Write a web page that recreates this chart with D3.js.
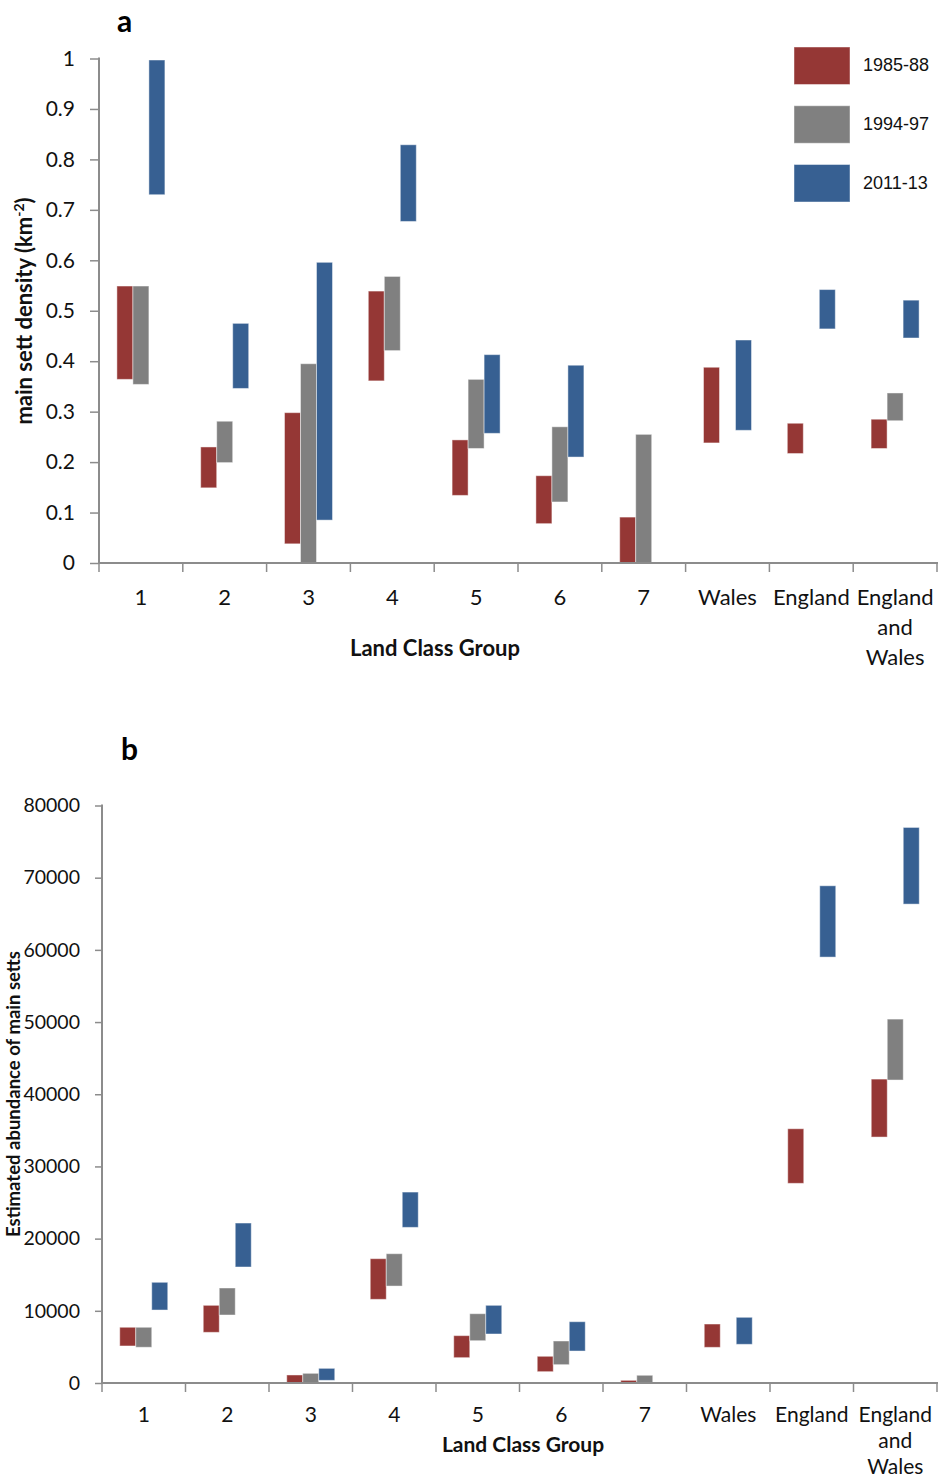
<!DOCTYPE html>
<html>
<head>
<meta charset="utf-8">
<script src="https://cdn.jsdelivr.net/npm/d3@7"></script>
<style>
  body { margin: 0; background: #fff; }
  svg { display: block; }
</style>
</head>
<body>
<div id="chart"></div>
<script>
// categories and tick labels
var categories = ["1", "2", "3", "4", "5", "6", "7", "Wales", "England", "England and Wales"];
var tickLines = [["1"], ["2"], ["3"], ["4"], ["5"], ["6"], ["7"], ["Wales"], ["England"], ["England", "and", "Wales"]];
var series = ["1985-88", "1994-97", "2011-13"];
var colors = ["#953735", "#808080", "#376092"];

// panel a: main sett density, low / high of each floating bar
var densLow88  = [0.364, 0.149, 0.038, 0.361, 0.134, 0.078, 0,     0.238, 0.217, 0.227];
var densHigh88 = [0.549, 0.230, 0.298, 0.539, 0.244, 0.173, 0.091, 0.388, 0.277, 0.285];
var densLow97  = [0.354, 0.199, 0,     0.421, 0.227, 0.121, 0,     null,  null,  0.282];
var densHigh97 = [0.549, 0.281, 0.395, 0.568, 0.364, 0.270, 0.255, null,  null,  0.337];
var densLow13  = [0.730, 0.346, 0.085, 0.677, 0.257, 0.210, null,  0.263, 0.464, 0.446];
var densHigh13 = [0.997, 0.475, 0.596, 0.829, 0.413, 0.392, null,  0.442, 0.542, 0.521];
var densTicks = [0, 0.1, 0.2, 0.3, 0.4, 0.5, 0.6, 0.7, 0.8, 0.9, 1];

// panel b: estimated abundance of main setts
var abLow88  = [5130, 7020, 0,    11590, 3510, 1570, 0,    4940, 27660, 34070];
var abHigh88 = [7720, 10760, 1110, 17220, 6560, 3700, 370,  8170, 35220, 42100];
var abLow97  = [4950, 9420, 0,    13430, 5860, 2540, 0,    null, null,  41970];
var abHigh97 = [7720, 13160, 1340, 17910, 9600, 5820, 1070, null, null,  50410];
var abLow13  = [10110, 16070, 370, 21560, 6790, 4430, null, 5360, 59000, 66340];
var abHigh13 = [13950, 22160, 2030, 26450, 10760, 8490, null, 9100, 68880, 76960];
var abTicks = [0, 10000, 20000, 30000, 40000, 50000, 60000, 70000, 80000];

var svg = d3.select("#chart").append("svg")
  .attr("width", 939).attr("height", 1480);

var numFont = "Lato, 'Open Sans', sans-serif";
var axisColor = "#8c8c8c";

function drawPanel(p) {
  var g = svg.append("g");
  var x = d3.scaleBand().domain(categories).range([p.left, p.right]).paddingInner(0).paddingOuter(0);
  var y = d3.scaleLinear().domain([0, p.max]).range([p.bottom, p.top]);
  var bw = x.bandwidth();
  var xs = d3.scaleBand().domain(series).range([bw / 2 - 24, bw / 2 + 24]);

  var rows = [];
  series.forEach(function (s, si) {
    categories.forEach(function (c, ci) {
      var lo = p.lows[si][ci], hi = p.highs[si][ci];
      if (lo == null || hi == null) return;
      rows.push({ s: s, si: si, c: c, lo: lo, hi: hi });
    });
  });

  g.selectAll("rect.bar").data(rows).enter().append("rect")
    .attr("class", "bar")
    .attr("x", function (d) { return x(d.c) + xs(d.s); })
    .attr("width", xs.bandwidth())
    .attr("y", function (d) { return y(d.hi); })
    .attr("height", function (d) { return y(d.lo) - y(d.hi); })
    .attr("fill", function (d) { return colors[d.si]; })
    .attr("stroke", "#ffffff").attr("stroke-opacity", 0.45).attr("stroke-width", 1);

  // y axis
  var ya = g.append("g").attr("transform", "translate(" + p.left + ",0)")
    .call(d3.axisLeft(y).tickValues(p.ticks).tickSize(p.ytick).tickPadding(p.ypad).tickFormat(d3.format("")));
  ya.select(".domain").attr("stroke", axisColor).attr("stroke-width", 2)
    .attr("d", "M0," + p.bottom + "V" + (p.top - 1));
  ya.selectAll(".tick line").attr("stroke", axisColor).attr("stroke-width", 1.5);
  ya.selectAll(".tick text").attr("font-family", numFont).attr("font-size", p.yTickFont).attr("fill", "#111");

  // x axis with ticks at band edges
  var xa = g.append("g");
  xa.append("line").attr("x1", p.left - 1).attr("x2", p.right + 1)
    .attr("y1", p.bottom).attr("y2", p.bottom)
    .attr("stroke", axisColor).attr("stroke-width", 2);
  var edges = categories.map(function (c) { return x(c); }).concat([p.right]);
  xa.selectAll("line.xt").data(edges).enter().append("line")
    .attr("class", "xt")
    .attr("x1", function (d) { return d; }).attr("x2", function (d) { return d; })
    .attr("y1", p.bottom).attr("y2", p.bottom + 9)
    .attr("stroke", axisColor).attr("stroke-width", 1.5);

  var lab = xa.selectAll("text.xl").data(categories).enter().append("text")
    .attr("class", "xl")
    .attr("text-anchor", "middle")
    .attr("font-family", numFont).attr("font-size", p.xTickFont).attr("fill", "#111")
    .attr("transform", function (d) { return "translate(" + (x(d) + bw / 2) + "," + p.labelY + ")"; });
  lab.selectAll("tspan").data(function (d, i) { return tickLines[i]; }).enter().append("tspan")
    .attr("x", 0).attr("y", function (d, i) { return i * p.lineH; })
    .text(function (d) { return d; });

  // axis titles
  g.append("text").attr("x", p.xTitleX).attr("y", p.xTitleY)
    .attr("text-anchor", "middle").attr("font-family", numFont).attr("font-weight", "bold")
    .attr("font-size", p.xTitleFont).attr("fill", "#111").text("Land Class Group");

  g.append("text").attr("transform", "translate(" + p.yTitleX + "," + p.yTitleY + ") rotate(-90)")
    .attr("text-anchor", "middle").attr("font-family", numFont).attr("font-weight", "bold")
    .attr("font-size", p.yTitleFont).attr("fill", "#111").call(p.yTitle);

  g.append("text").attr("x", p.panelX).attr("y", p.panelY)
    .attr("font-family", numFont).attr("font-weight", "bold").attr("font-size", 30)
    .attr("fill", "#000").text(p.panel);
}

drawPanel({
  panel: "a", panelX: 117, panelY: 32,
  left: 99, right: 937, top: 58.5, bottom: 563, max: 1,
  lows: [densLow88, densLow97, densLow13], highs: [densHigh88, densHigh97, densHigh13],
  ticks: densTicks, ytick: 9, ypad: 15, yTickFont: 21, xTickFont: 22,
  labelY: 605, lineH: 30,
  xTitleX: 435, xTitleY: 656, xTitleFont: 22,
  yTitleX: 32, yTitleY: 311, yTitleFont: 22,
  yTitle: function (t) {
    t.append("tspan").text("main sett density (km");
    t.append("tspan").attr("dy", -8).attr("font-size", 14).text("-2");
    t.append("tspan").attr("dy", 8).text(")");
  }
});

drawPanel({
  panel: "b", panelX: 121, panelY: 760,
  left: 102, right: 937, top: 805.5, bottom: 1383, max: 80000,
  lows: [abLow88, abLow97, abLow13], highs: [abHigh88, abHigh97, abHigh13],
  ticks: abTicks, ytick: 7, ypad: 15, yTickFont: 19.5, xTickFont: 21,
  labelY: 1422, lineH: 26,
  xTitleX: 523, xTitleY: 1452, xTitleFont: 21,
  yTitleX: 20, yTitleY: 1094, yTitleFont: 18.5,
  yTitle: function (t) { t.text("Estimated abundance of main setts"); }
});

// legend (panel a)
var leg = svg.append("g");
var ly = d3.scalePoint().domain(series).range([47, 164.5]);
leg.selectAll("rect").data(series).enter().append("rect")
  .attr("x", 794).attr("y", function (d) { return ly(d); })
  .attr("width", 56).attr("height", 37.5)
  .attr("fill", function (d, i) { return colors[i]; })
  .attr("stroke", "#ffffff").attr("stroke-opacity", 0.45);
leg.selectAll("text").data(series).enter().append("text")
  .attr("x", 863).attr("y", function (d) { return ly(d) + 24; })
  .attr("font-family", "'Liberation Sans', Arial, sans-serif").attr("font-size", 18)
  .attr("fill", "#111").text(function (d) { return d; });
</script>
</body>
</html>
